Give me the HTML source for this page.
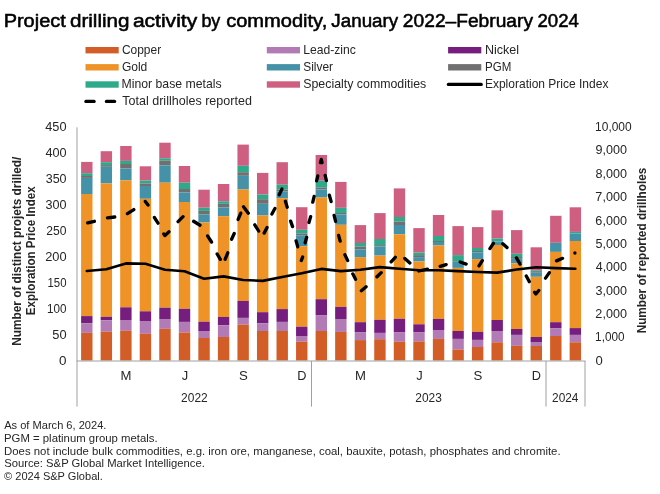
<!DOCTYPE html>
<html><head><meta charset="utf-8"><title>Project drilling activity by commodity</title>
<style>
html,body{margin:0;padding:0;background:#fff;}
body{width:660px;height:494px;overflow:hidden;}
svg{display:block;will-change:transform;}
svg text{font-family:"Liberation Sans",Arial,sans-serif;fill:#262626;}
.t{font-weight:normal;fill:#000;stroke:#000;stroke-width:0.55px;stroke-linejoin:round;}
</style></head>
<body>
<svg width="660" height="494" viewBox="0 0 660 494">
<g>
<rect x="85.5" y="47.0" width="33.2" height="6.4" fill="#D35D26"/>
<rect x="266.8" y="47.0" width="33.2" height="6.4" fill="#B27BB6"/>
<rect x="448.1" y="47.0" width="33.2" height="6.4" fill="#761E7D"/>
<rect x="85.5" y="64.1" width="33.2" height="6.4" fill="#EF9326"/>
<rect x="266.8" y="64.1" width="33.2" height="6.4" fill="#4592A8"/>
<rect x="448.1" y="64.1" width="33.2" height="6.4" fill="#707070"/>
<rect x="85.5" y="81.3" width="33.2" height="6.4" fill="#2EA98A"/>
<rect x="266.8" y="81.3" width="33.2" height="6.4" fill="#CF5F80"/>
<line x1="448.3" y1="84.4" x2="481.3" y2="84.4" stroke="#000" stroke-width="3.1" stroke-linecap="round"/>
<line x1="85.9" y1="101.4" x2="94.1" y2="101.4" stroke="#000" stroke-width="3.2" stroke-linecap="round"/>
<line x1="106.4" y1="101.4" x2="114.6" y2="101.4" stroke="#000" stroke-width="3.2" stroke-linecap="round"/>
</g>
<g>
<rect x="81.1" y="161.9" width="11.4" height="11.3" fill="#CF5F80"/>
<rect x="81.1" y="173.2" width="11.4" height="2.8" fill="#2EA98A"/>
<rect x="81.1" y="176" width="11.4" height="1.9" fill="#707070"/>
<rect x="81.1" y="177.9" width="11.4" height="16.1" fill="#4592A8"/>
<rect x="81.1" y="194" width="11.4" height="122.1" fill="#EF9326"/>
<rect x="81.1" y="316.1" width="11.4" height="7.2" fill="#761E7D"/>
<rect x="81.1" y="323.3" width="11.4" height="9.5" fill="#B27BB6"/>
<rect x="81.1" y="332.8" width="11.4" height="27.7" fill="#D35D26"/>
<rect x="100.64" y="151.2" width="11.4" height="11" fill="#CF5F80"/>
<rect x="100.64" y="162.2" width="11.4" height="2.9" fill="#2EA98A"/>
<rect x="100.64" y="165.1" width="11.4" height="1.7" fill="#707070"/>
<rect x="100.64" y="166.8" width="11.4" height="16.6" fill="#4592A8"/>
<rect x="100.64" y="183.4" width="11.4" height="133.4" fill="#EF9326"/>
<rect x="100.64" y="316.8" width="11.4" height="3.5" fill="#761E7D"/>
<rect x="100.64" y="320.3" width="11.4" height="11.4" fill="#B27BB6"/>
<rect x="100.64" y="331.7" width="11.4" height="28.8" fill="#D35D26"/>
<rect x="120.18" y="146" width="11.4" height="14.9" fill="#CF5F80"/>
<rect x="120.18" y="160.9" width="11.4" height="3.1" fill="#2EA98A"/>
<rect x="120.18" y="164" width="11.4" height="4.5" fill="#707070"/>
<rect x="120.18" y="168.5" width="11.4" height="11.9" fill="#4592A8"/>
<rect x="120.18" y="180.4" width="11.4" height="126.9" fill="#EF9326"/>
<rect x="120.18" y="307.3" width="11.4" height="12.7" fill="#761E7D"/>
<rect x="120.18" y="320" width="11.4" height="10.8" fill="#B27BB6"/>
<rect x="120.18" y="330.8" width="11.4" height="29.7" fill="#D35D26"/>
<rect x="139.73" y="166.3" width="11.4" height="14.3" fill="#CF5F80"/>
<rect x="139.73" y="180.6" width="11.4" height="2.9" fill="#2EA98A"/>
<rect x="139.73" y="183.5" width="11.4" height="2.5" fill="#707070"/>
<rect x="139.73" y="186" width="11.4" height="12.8" fill="#4592A8"/>
<rect x="139.73" y="198.8" width="11.4" height="112.5" fill="#EF9326"/>
<rect x="139.73" y="311.3" width="11.4" height="9.7" fill="#761E7D"/>
<rect x="139.73" y="321" width="11.4" height="12.8" fill="#B27BB6"/>
<rect x="139.73" y="333.8" width="11.4" height="26.7" fill="#D35D26"/>
<rect x="159.27" y="142.7" width="11.4" height="15.6" fill="#CF5F80"/>
<rect x="159.27" y="158.3" width="11.4" height="2.4" fill="#2EA98A"/>
<rect x="159.27" y="160.7" width="11.4" height="4.7" fill="#707070"/>
<rect x="159.27" y="165.4" width="11.4" height="17.3" fill="#4592A8"/>
<rect x="159.27" y="182.7" width="11.4" height="125" fill="#EF9326"/>
<rect x="159.27" y="307.7" width="11.4" height="11.3" fill="#761E7D"/>
<rect x="159.27" y="319" width="11.4" height="9.8" fill="#B27BB6"/>
<rect x="159.27" y="328.8" width="11.4" height="31.7" fill="#D35D26"/>
<rect x="178.81" y="166" width="11.4" height="16.7" fill="#CF5F80"/>
<rect x="178.81" y="182.7" width="11.4" height="6.3" fill="#2EA98A"/>
<rect x="178.81" y="189" width="11.4" height="3.5" fill="#707070"/>
<rect x="178.81" y="192.5" width="11.4" height="9.5" fill="#4592A8"/>
<rect x="178.81" y="202" width="11.4" height="106.8" fill="#EF9326"/>
<rect x="178.81" y="308.8" width="11.4" height="13.1" fill="#761E7D"/>
<rect x="178.81" y="321.9" width="11.4" height="10.6" fill="#B27BB6"/>
<rect x="178.81" y="332.5" width="11.4" height="28" fill="#D35D26"/>
<rect x="198.35" y="189.7" width="11.4" height="18" fill="#CF5F80"/>
<rect x="198.35" y="207.7" width="11.4" height="3.2" fill="#2EA98A"/>
<rect x="198.35" y="210.9" width="11.4" height="3.6" fill="#707070"/>
<rect x="198.35" y="214.5" width="11.4" height="8" fill="#4592A8"/>
<rect x="198.35" y="222.5" width="11.4" height="99.2" fill="#EF9326"/>
<rect x="198.35" y="321.7" width="11.4" height="9.3" fill="#761E7D"/>
<rect x="198.35" y="331" width="11.4" height="7" fill="#B27BB6"/>
<rect x="198.35" y="338" width="11.4" height="22.5" fill="#D35D26"/>
<rect x="217.89" y="184" width="11.4" height="17.3" fill="#CF5F80"/>
<rect x="217.89" y="201.3" width="11.4" height="2.5" fill="#2EA98A"/>
<rect x="217.89" y="203.8" width="11.4" height="3.6" fill="#707070"/>
<rect x="217.89" y="207.4" width="11.4" height="8.8" fill="#4592A8"/>
<rect x="217.89" y="216.2" width="11.4" height="100.7" fill="#EF9326"/>
<rect x="217.89" y="316.9" width="11.4" height="8.4" fill="#761E7D"/>
<rect x="217.89" y="325.3" width="11.4" height="11.7" fill="#B27BB6"/>
<rect x="217.89" y="337" width="11.4" height="23.5" fill="#D35D26"/>
<rect x="237.44" y="144.6" width="11.4" height="21.2" fill="#CF5F80"/>
<rect x="237.44" y="165.8" width="11.4" height="6.4" fill="#2EA98A"/>
<rect x="237.44" y="172.2" width="11.4" height="3.6" fill="#707070"/>
<rect x="237.44" y="175.8" width="11.4" height="13.7" fill="#4592A8"/>
<rect x="237.44" y="189.5" width="11.4" height="111.4" fill="#EF9326"/>
<rect x="237.44" y="300.9" width="11.4" height="17" fill="#761E7D"/>
<rect x="237.44" y="317.9" width="11.4" height="6.8" fill="#B27BB6"/>
<rect x="237.44" y="324.7" width="11.4" height="35.8" fill="#D35D26"/>
<rect x="256.98" y="172.9" width="11.4" height="21.6" fill="#CF5F80"/>
<rect x="256.98" y="194.5" width="11.4" height="4.7" fill="#2EA98A"/>
<rect x="256.98" y="199.2" width="11.4" height="4.6" fill="#707070"/>
<rect x="256.98" y="203.8" width="11.4" height="11.7" fill="#4592A8"/>
<rect x="256.98" y="215.5" width="11.4" height="96.7" fill="#EF9326"/>
<rect x="256.98" y="312.2" width="11.4" height="11.1" fill="#761E7D"/>
<rect x="256.98" y="323.3" width="11.4" height="7.7" fill="#B27BB6"/>
<rect x="256.98" y="331" width="11.4" height="29.5" fill="#D35D26"/>
<rect x="276.52" y="162.2" width="11.4" height="22.5" fill="#CF5F80"/>
<rect x="276.52" y="184.7" width="11.4" height="4.9" fill="#2EA98A"/>
<rect x="276.52" y="189.6" width="11.4" height="1.7" fill="#707070"/>
<rect x="276.52" y="191.3" width="11.4" height="6.9" fill="#4592A8"/>
<rect x="276.52" y="198.2" width="11.4" height="110.9" fill="#EF9326"/>
<rect x="276.52" y="309.1" width="11.4" height="12.8" fill="#761E7D"/>
<rect x="276.52" y="321.9" width="11.4" height="9.1" fill="#B27BB6"/>
<rect x="276.52" y="331" width="11.4" height="29.5" fill="#D35D26"/>
<rect x="296.06" y="207.2" width="11.4" height="22.6" fill="#CF5F80"/>
<rect x="296.06" y="229.8" width="11.4" height="3.6" fill="#2EA98A"/>
<rect x="296.06" y="233.4" width="11.4" height="1.9" fill="#707070"/>
<rect x="296.06" y="235.3" width="11.4" height="10.9" fill="#4592A8"/>
<rect x="296.06" y="246.2" width="11.4" height="80.5" fill="#EF9326"/>
<rect x="296.06" y="326.7" width="11.4" height="9.3" fill="#761E7D"/>
<rect x="296.06" y="336" width="11.4" height="5.7" fill="#B27BB6"/>
<rect x="296.06" y="341.7" width="11.4" height="18.8" fill="#D35D26"/>
<rect x="315.6" y="155" width="11.4" height="25.7" fill="#CF5F80"/>
<rect x="315.6" y="180.7" width="11.4" height="6.8" fill="#2EA98A"/>
<rect x="315.6" y="187.5" width="11.4" height="1.9" fill="#707070"/>
<rect x="315.6" y="189.4" width="11.4" height="8.1" fill="#4592A8"/>
<rect x="315.6" y="197.5" width="11.4" height="101.7" fill="#EF9326"/>
<rect x="315.6" y="299.2" width="11.4" height="15.9" fill="#761E7D"/>
<rect x="315.6" y="315.1" width="11.4" height="15.9" fill="#B27BB6"/>
<rect x="315.6" y="331" width="11.4" height="29.5" fill="#D35D26"/>
<rect x="335.15" y="181.9" width="11.4" height="25.9" fill="#CF5F80"/>
<rect x="335.15" y="207.8" width="11.4" height="5.2" fill="#2EA98A"/>
<rect x="335.15" y="213" width="11.4" height="1.5" fill="#707070"/>
<rect x="335.15" y="214.5" width="11.4" height="10.3" fill="#4592A8"/>
<rect x="335.15" y="224.8" width="11.4" height="82.1" fill="#EF9326"/>
<rect x="335.15" y="306.9" width="11.4" height="12.1" fill="#761E7D"/>
<rect x="335.15" y="319" width="11.4" height="12.9" fill="#B27BB6"/>
<rect x="335.15" y="331.9" width="11.4" height="28.6" fill="#D35D26"/>
<rect x="354.69" y="225.1" width="11.4" height="17.9" fill="#CF5F80"/>
<rect x="354.69" y="243" width="11.4" height="3.5" fill="#2EA98A"/>
<rect x="354.69" y="246.5" width="11.4" height="2.8" fill="#707070"/>
<rect x="354.69" y="249.3" width="11.4" height="7.8" fill="#4592A8"/>
<rect x="354.69" y="257.1" width="11.4" height="65.1" fill="#EF9326"/>
<rect x="354.69" y="322.2" width="11.4" height="9.9" fill="#761E7D"/>
<rect x="354.69" y="332.1" width="11.4" height="8" fill="#B27BB6"/>
<rect x="354.69" y="340.1" width="11.4" height="20.4" fill="#D35D26"/>
<rect x="374.23" y="213.1" width="11.4" height="25.9" fill="#CF5F80"/>
<rect x="374.23" y="239" width="11.4" height="6.1" fill="#2EA98A"/>
<rect x="374.23" y="245.1" width="11.4" height="1.4" fill="#707070"/>
<rect x="374.23" y="246.5" width="11.4" height="9.1" fill="#4592A8"/>
<rect x="374.23" y="255.6" width="11.4" height="64.2" fill="#EF9326"/>
<rect x="374.23" y="319.8" width="11.4" height="13.1" fill="#761E7D"/>
<rect x="374.23" y="332.9" width="11.4" height="6.3" fill="#B27BB6"/>
<rect x="374.23" y="339.2" width="11.4" height="21.3" fill="#D35D26"/>
<rect x="393.77" y="188.4" width="11.4" height="28.6" fill="#CF5F80"/>
<rect x="393.77" y="217" width="11.4" height="4.5" fill="#2EA98A"/>
<rect x="393.77" y="221.5" width="11.4" height="3.5" fill="#707070"/>
<rect x="393.77" y="225" width="11.4" height="9.3" fill="#4592A8"/>
<rect x="393.77" y="234.3" width="11.4" height="84.5" fill="#EF9326"/>
<rect x="393.77" y="318.8" width="11.4" height="13.3" fill="#761E7D"/>
<rect x="393.77" y="332.1" width="11.4" height="9.6" fill="#B27BB6"/>
<rect x="393.77" y="341.7" width="11.4" height="18.8" fill="#D35D26"/>
<rect x="413.31" y="228.1" width="11.4" height="24.5" fill="#CF5F80"/>
<rect x="413.31" y="252.6" width="11.4" height="2.5" fill="#2EA98A"/>
<rect x="413.31" y="255.1" width="11.4" height="2" fill="#707070"/>
<rect x="413.31" y="257.1" width="11.4" height="4.3" fill="#4592A8"/>
<rect x="413.31" y="261.4" width="11.4" height="62.9" fill="#EF9326"/>
<rect x="413.31" y="324.3" width="11.4" height="7.8" fill="#761E7D"/>
<rect x="413.31" y="332.1" width="11.4" height="9.3" fill="#B27BB6"/>
<rect x="413.31" y="341.4" width="11.4" height="19.1" fill="#D35D26"/>
<rect x="432.86" y="215" width="11.4" height="21" fill="#CF5F80"/>
<rect x="432.86" y="236" width="11.4" height="5" fill="#2EA98A"/>
<rect x="432.86" y="241" width="11.4" height="1" fill="#707070"/>
<rect x="432.86" y="242" width="11.4" height="3.5" fill="#4592A8"/>
<rect x="432.86" y="245.5" width="11.4" height="73.4" fill="#EF9326"/>
<rect x="432.86" y="318.9" width="11.4" height="11.1" fill="#761E7D"/>
<rect x="432.86" y="330" width="11.4" height="8.9" fill="#B27BB6"/>
<rect x="432.86" y="338.9" width="11.4" height="21.6" fill="#D35D26"/>
<rect x="452.4" y="226.1" width="11.4" height="29" fill="#CF5F80"/>
<rect x="452.4" y="255.1" width="11.4" height="6" fill="#2EA98A"/>
<rect x="452.4" y="261.1" width="11.4" height="0.7" fill="#707070"/>
<rect x="452.4" y="261.8" width="11.4" height="6.1" fill="#4592A8"/>
<rect x="452.4" y="267.9" width="11.4" height="63.1" fill="#EF9326"/>
<rect x="452.4" y="331" width="11.4" height="7.9" fill="#761E7D"/>
<rect x="452.4" y="338.9" width="11.4" height="10.6" fill="#B27BB6"/>
<rect x="452.4" y="349.5" width="11.4" height="11" fill="#D35D26"/>
<rect x="471.94" y="227.1" width="11.4" height="20.9" fill="#CF5F80"/>
<rect x="471.94" y="248" width="11.4" height="3" fill="#2EA98A"/>
<rect x="471.94" y="251" width="11.4" height="1.3" fill="#707070"/>
<rect x="471.94" y="252.3" width="11.4" height="6.8" fill="#4592A8"/>
<rect x="471.94" y="259.1" width="11.4" height="72.7" fill="#EF9326"/>
<rect x="471.94" y="331.8" width="11.4" height="8.1" fill="#761E7D"/>
<rect x="471.94" y="339.9" width="11.4" height="7.1" fill="#B27BB6"/>
<rect x="471.94" y="347" width="11.4" height="13.5" fill="#D35D26"/>
<rect x="491.48" y="210.3" width="11.4" height="28.2" fill="#CF5F80"/>
<rect x="491.48" y="238.5" width="11.4" height="2.7" fill="#2EA98A"/>
<rect x="491.48" y="241.2" width="11.4" height="0.2" fill="#707070"/>
<rect x="491.48" y="241.4" width="11.4" height="3.6" fill="#4592A8"/>
<rect x="491.48" y="245" width="11.4" height="75" fill="#EF9326"/>
<rect x="491.48" y="320" width="11.4" height="11" fill="#761E7D"/>
<rect x="491.48" y="331" width="11.4" height="11.3" fill="#B27BB6"/>
<rect x="491.48" y="342.3" width="11.4" height="18.2" fill="#D35D26"/>
<rect x="511.02" y="230.1" width="11.4" height="23.7" fill="#CF5F80"/>
<rect x="511.02" y="253.8" width="11.4" height="3.2" fill="#2EA98A"/>
<rect x="511.02" y="257" width="11.4" height="1.8" fill="#707070"/>
<rect x="511.02" y="258.8" width="11.4" height="4.5" fill="#4592A8"/>
<rect x="511.02" y="263.3" width="11.4" height="65.7" fill="#EF9326"/>
<rect x="511.02" y="329" width="11.4" height="5.9" fill="#761E7D"/>
<rect x="511.02" y="334.9" width="11.4" height="10.9" fill="#B27BB6"/>
<rect x="511.02" y="345.8" width="11.4" height="14.7" fill="#D35D26"/>
<rect x="530.57" y="247.3" width="11.4" height="23.5" fill="#CF5F80"/>
<rect x="530.57" y="270.8" width="11.4" height="1.5" fill="#2EA98A"/>
<rect x="530.57" y="272.3" width="11.4" height="0.7" fill="#707070"/>
<rect x="530.57" y="273" width="11.4" height="3.8" fill="#4592A8"/>
<rect x="530.57" y="276.8" width="11.4" height="60.2" fill="#EF9326"/>
<rect x="530.57" y="337" width="11.4" height="5" fill="#761E7D"/>
<rect x="530.57" y="342" width="11.4" height="4" fill="#B27BB6"/>
<rect x="530.57" y="346" width="11.4" height="14.5" fill="#D35D26"/>
<rect x="550.11" y="215.8" width="11.4" height="27" fill="#CF5F80"/>
<rect x="550.11" y="242.8" width="11.4" height="9.1" fill="#4592A8"/>
<rect x="550.11" y="251.9" width="11.4" height="70.3" fill="#EF9326"/>
<rect x="550.11" y="322.2" width="11.4" height="5.9" fill="#761E7D"/>
<rect x="550.11" y="328.1" width="11.4" height="7.9" fill="#B27BB6"/>
<rect x="550.11" y="336" width="11.4" height="24.5" fill="#D35D26"/>
<rect x="569.65" y="207.3" width="11.4" height="24.6" fill="#CF5F80"/>
<rect x="569.65" y="231.9" width="11.4" height="1.6" fill="#2EA98A"/>
<rect x="569.65" y="233.5" width="11.4" height="7.5" fill="#4592A8"/>
<rect x="569.65" y="241" width="11.4" height="87.1" fill="#EF9326"/>
<rect x="569.65" y="328.1" width="11.4" height="6.8" fill="#761E7D"/>
<rect x="569.65" y="334.9" width="11.4" height="7.4" fill="#B27BB6"/>
<rect x="569.65" y="342.3" width="11.4" height="18.2" fill="#D35D26"/>
</g>
<polyline points="86.8,271 106.34,269.2 125.88,263.4 145.43,263.8 164.97,269.7 184.51,271.2 204.05,278.8 223.59,276.4 243.14,280 262.68,280.85 282.22,277 301.76,273.3 321.3,268.9 340.85,271.1 360.39,269.8 379.93,267.1 399.47,268.7 419.01,270.3 438.56,270.2 458.1,271.1 477.64,272 497.18,272.6 516.72,269.5 536.27,267.3 555.81,268.1 575.35,268.7" fill="none" stroke="#000" stroke-width="2.6" stroke-linejoin="round" stroke-linecap="round"/>
<path d="M87.68 222.83 L94.39 221.27 M107.44 217.90 L114.76 217.00 M127.44 213.62 L133.81 209.58 M145.30 201.40 L148.02 205.07 M154.38 217.49 L158.02 223.21 M163.82 233.97 L164.90 235.60 L168.99 231.82 M178.07 221.63 L183.03 216.67 M193.60 221.27 L200.00 225.23 M207.59 235.89 L211.51 242.01 M217.15 254.02 L220.35 259.38 M225.13 259.27 L227.77 252.83 M231.58 239.30 L234.22 233.50 M238.13 219.48 L240.77 213.12 M243.50 206.70 L248.32 213.18 M254.77 224.80 L258.63 231.00 M264.16 233.13 L267.04 227.57 M271.89 214.05 L274.91 208.45 M279.21 194.71 L281.89 189.09 M285.39 201.28 L287.21 207.22 M290.64 221.16 L292.56 226.64 M296.05 240.89 L297.75 246.81 M301.28 260.56 L302.62 257.04 M305.14 242.81 L306.66 237.29 M308.95 222.51 L310.65 216.59 M312.77 202.19 L314.13 196.31 M316.60 180.80 L317.80 175.90 M320.43 162.61 L321.30 159.40 L322.03 162.59 M325.18 175.41 L326.42 180.59 M329.35 195.19 L331.15 201.61 M334.10 215.40 L335.60 221.40 M338.63 235.39 L340.17 241.11 M344.91 254.79 L347.69 260.61 M352.75 273.87 L355.55 279.33 M361.37 290.74 L366.13 286.76 M376.98 276.75 L381.22 272.65 M391.12 261.79 L395.28 257.31 M404.82 258.41 L409.88 262.99 M418.80 271.00 L427.39 269.15 M440.18 266.33 L446.12 264.57 M460.16 262.03 L466.14 264.07 M478.99 265.81 L482.31 260.69 M489.90 248.62 L493.40 243.28 M502.81 243.72 L506.99 247.58 M516.43 257.83 L520.07 264.07 M526.29 276.05 L529.31 281.65 M534.60 292.31 L535.90 294.00 L538.75 290.57 M545.54 278.15 L549.36 272.65 M556.52 260.86 L562.58 258.34 M574.85 253.00 L574.95 253.00" fill="none" stroke="#000" stroke-width="3.3" stroke-linejoin="round" stroke-linecap="round"/>
<g stroke="#A0A0A0" stroke-width="1" fill="none">
<line x1="77" y1="127.3" x2="77" y2="406.6"/>
<line x1="76.5" y1="361" x2="585.5" y2="361"/>
<line x1="311.5" y1="361" x2="311.5" y2="406.6"/>
<line x1="546" y1="361" x2="546" y2="406.6"/>
<line x1="585" y1="361" x2="585" y2="406.6"/>
</g>
<text class="t" x="3.65" y="27.1" font-size="18.8" textLength="62.15" lengthAdjust="spacingAndGlyphs">Project</text>
<text class="t" x="69.93" y="27.1" font-size="18.8" textLength="59.57" lengthAdjust="spacingAndGlyphs">drilling</text>
<text class="t" x="132.9" y="27.1" font-size="18.8" textLength="64.28" lengthAdjust="spacingAndGlyphs">activity</text>
<text class="t" x="201.38" y="27.1" font-size="18.8" textLength="18.98" lengthAdjust="spacingAndGlyphs">by</text>
<text class="t" x="226.15" y="27.1" font-size="18.8" textLength="101.07" lengthAdjust="spacingAndGlyphs">commodity,</text>
<text class="t" x="331.37" y="27.1" font-size="18.8" textLength="66.83" lengthAdjust="spacingAndGlyphs">January</text>
<text class="t" x="402.89" y="27.1" font-size="18.8" textLength="130.11" lengthAdjust="spacingAndGlyphs">2022–February</text>
<text class="t" x="537.52" y="27.1" font-size="18.8" textLength="41.38" lengthAdjust="spacingAndGlyphs">2024</text>
<text x="121.9" y="53.6" font-size="12.1" textLength="39.24" lengthAdjust="spacingAndGlyphs">Copper</text>
<text x="121.9" y="70.9" font-size="12.1" textLength="25.41" lengthAdjust="spacingAndGlyphs">Gold</text>
<text x="121.52" y="88" font-size="12.1" textLength="100.11" lengthAdjust="spacingAndGlyphs">Minor base metals</text>
<text x="122.25" y="104.8" font-size="12.1" textLength="129.66" lengthAdjust="spacingAndGlyphs">Total drillholes reported</text>
<text x="303.23" y="53.6" font-size="12.1" textLength="52.69" lengthAdjust="spacingAndGlyphs">Lead-zinc</text>
<text x="303.26" y="70.9" font-size="12.1" textLength="29.82" lengthAdjust="spacingAndGlyphs">Silver</text>
<text x="303.24" y="88" font-size="12.1" textLength="122.97" lengthAdjust="spacingAndGlyphs">Specialty commodities</text>
<text x="484.9" y="53.6" font-size="12.1" textLength="34.15" lengthAdjust="spacingAndGlyphs">Nickel</text>
<text x="484.98" y="70.9" font-size="12.1" textLength="26.28" lengthAdjust="spacingAndGlyphs">PGM</text>
<text x="484.94" y="88" font-size="12.1" textLength="123.46" lengthAdjust="spacingAndGlyphs">Exploration Price Index</text>
<text x="59.06" y="364.95" font-size="12.75" textLength="7.49" lengthAdjust="spacingAndGlyphs">0</text>
<text x="52.29" y="338.95" font-size="12.75" textLength="14.26" lengthAdjust="spacingAndGlyphs">50</text>
<text x="47.02" y="312.95" font-size="12.75" textLength="19.48" lengthAdjust="spacingAndGlyphs">100</text>
<text x="47.55" y="286.95" font-size="12.75" textLength="18.95" lengthAdjust="spacingAndGlyphs">150</text>
<text x="45.16" y="260.95" font-size="12.75" textLength="21.4" lengthAdjust="spacingAndGlyphs">200</text>
<text x="46.29" y="234.95" font-size="12.75" textLength="20.23" lengthAdjust="spacingAndGlyphs">250</text>
<text x="45.5" y="208.95" font-size="12.75" textLength="21.05" lengthAdjust="spacingAndGlyphs">300</text>
<text x="45.7" y="182.95" font-size="12.75" textLength="20.84" lengthAdjust="spacingAndGlyphs">350</text>
<text x="45.38" y="156.95" font-size="12.75" textLength="21.17" lengthAdjust="spacingAndGlyphs">400</text>
<text x="45.28" y="130.95" font-size="12.75" textLength="21.27" lengthAdjust="spacingAndGlyphs">450</text>
<text x="595.48" y="364.75" font-size="12.75" textLength="7.26" lengthAdjust="spacingAndGlyphs">0</text>
<text x="595.12" y="341.38" font-size="12.75" textLength="29.38" lengthAdjust="spacingAndGlyphs">1,000</text>
<text x="595.37" y="318.01" font-size="12.75" textLength="31.57" lengthAdjust="spacingAndGlyphs">2,000</text>
<text x="595.5" y="294.64" font-size="12.75" textLength="31.44" lengthAdjust="spacingAndGlyphs">3,000</text>
<text x="595.69" y="271.27" font-size="12.75" textLength="31.24" lengthAdjust="spacingAndGlyphs">4,000</text>
<text x="595.5" y="247.9" font-size="12.75" textLength="31.44" lengthAdjust="spacingAndGlyphs">5,000</text>
<text x="595.37" y="224.53" font-size="12.75" textLength="31.57" lengthAdjust="spacingAndGlyphs">6,000</text>
<text x="595.37" y="201.16" font-size="12.75" textLength="31.57" lengthAdjust="spacingAndGlyphs">7,000</text>
<text x="595.43" y="177.79" font-size="12.75" textLength="31.5" lengthAdjust="spacingAndGlyphs">8,000</text>
<text x="595.43" y="154.42" font-size="12.75" textLength="31.5" lengthAdjust="spacingAndGlyphs">9,000</text>
<text x="595.1" y="131.05" font-size="12.75" textLength="36.56" lengthAdjust="spacingAndGlyphs">10,000</text>
<text x="120.63" y="380.1" font-size="13" textLength="10.94" lengthAdjust="spacingAndGlyphs">M</text>
<text x="181.87" y="380.1" font-size="13" textLength="6.46" lengthAdjust="spacingAndGlyphs">J</text>
<text x="238.94" y="380.1" font-size="13" textLength="8.82" lengthAdjust="spacingAndGlyphs">S</text>
<text x="297.14" y="380.1" font-size="13" textLength="9.22" lengthAdjust="spacingAndGlyphs">D</text>
<text x="355.14" y="380.1" font-size="13" textLength="10.94" lengthAdjust="spacingAndGlyphs">M</text>
<text x="416.37" y="380.1" font-size="13" textLength="6.46" lengthAdjust="spacingAndGlyphs">J</text>
<text x="473.45" y="380.1" font-size="13" textLength="8.82" lengthAdjust="spacingAndGlyphs">S</text>
<text x="531.64" y="380.1" font-size="13" textLength="9.22" lengthAdjust="spacingAndGlyphs">D</text>
<text x="181.1" y="401.8" font-size="12.75" textLength="26.59" lengthAdjust="spacingAndGlyphs">2022</text>
<text x="415.3" y="401.8" font-size="12.75" textLength="26.53" lengthAdjust="spacingAndGlyphs">2023</text>
<text x="552.11" y="401.8" font-size="12.75" textLength="26.34" lengthAdjust="spacingAndGlyphs">2024</text>
<text x="4.19" y="428.7" font-size="11" textLength="102.23" lengthAdjust="spacingAndGlyphs">As of March 6, 2024.</text>
<text x="4.05" y="441.7" font-size="11" textLength="153.51" lengthAdjust="spacingAndGlyphs">PGM = platinum group metals.</text>
<text x="4.05" y="454.5" font-size="11" textLength="556.51" lengthAdjust="spacingAndGlyphs">Does not include bulk commodities, e.g. iron ore, manganese, coal, bauxite, potash, phosphates and chromite.</text>
<text x="4.19" y="467.2" font-size="11" textLength="200.67" lengthAdjust="spacingAndGlyphs">Source: S&amp;P Global Market Intelligence.</text>
<text x="4.08" y="480.2" font-size="11" textLength="98.73" lengthAdjust="spacingAndGlyphs">© 2024 S&amp;P Global.</text>
<text transform="translate(21,345) rotate(-90)" x="-0.77" y="0" font-size="12.9" font-weight="bold" fill="#111" textLength="189.15" lengthAdjust="spacingAndGlyphs">Number of distinct projets drilled/</text>
<text transform="translate(35,314.4) rotate(-90)" x="-0.75" y="0" font-size="12.9" font-weight="bold" fill="#111" textLength="128.76" lengthAdjust="spacingAndGlyphs">Exploration Price Index</text>
<text transform="translate(646,332.6) rotate(-90)" x="-0.77" y="0" font-size="12.9" font-weight="bold" fill="#111" textLength="165.66" lengthAdjust="spacingAndGlyphs">Number of reported drillholes</text>
</svg>
</body></html>
